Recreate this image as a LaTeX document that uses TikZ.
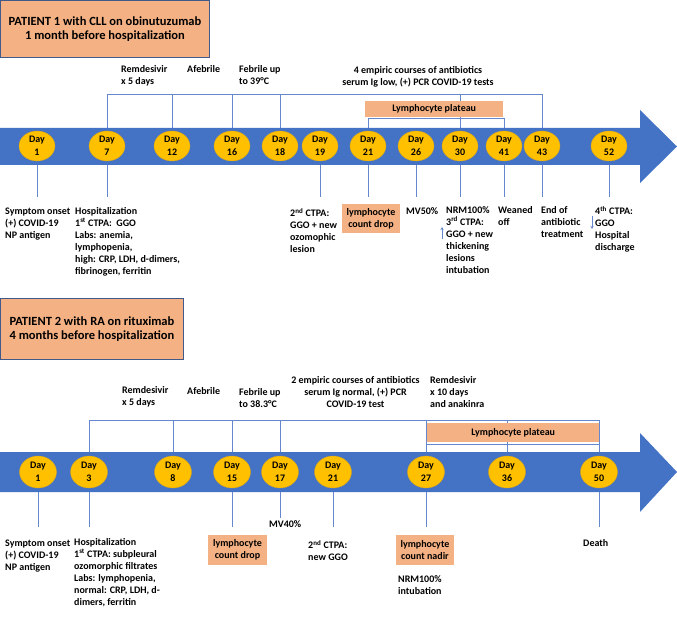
\documentclass[tikz,border=0pt]{standalone}
\usepackage{fontspec}
\setmainfont{Carlito}
\usetikzlibrary{shapes.geometric,arrows.meta}
\definecolor{bandblue}{RGB}{68,114,196}
\definecolor{gold}{RGB}{255,192,0}
\definecolor{golddk}{RGB}{215,165,30}
\definecolor{peach}{RGB}{244,177,131}
\definecolor{lnblue}{RGB}{100,135,205}
\definecolor{darkedge}{RGB}{65,90,140}
\newcommand{\lblfont}{\fontsize{10}{12}\selectfont\bfseries}
\newcommand{\dayfont}{\fontsize{10}{12.5}\selectfont\bfseries}
\newcommand{\titlefont}{\fontsize{12.5}{14.5}\selectfont\bfseries}
\begin{document}
\begin{tikzpicture}[x=1pt,y=-1pt,
  day/.style={ellipse, fill=gold, draw=golddk, line width=0.4pt, minimum width=36pt, minimum height=30pt, inner sep=0pt, align=center, font=\dayfont},
  daytwo/.style={day, minimum width=37pt, minimum height=32pt},
  conn/.style={draw=lnblue, line width=0.7pt},
  lbl/.style={anchor=north west, align=left, inner sep=0pt, font=\lblfont},
  clbl/.style={anchor=north, align=center, inner sep=0pt, font=\lblfont},
  peachbox/.style={fill=peach, inner sep=0pt, align=center, font=\lblfont},
  titlebox/.style={fill=peach, draw=darkedge, line width=0.9pt, inner sep=0pt, align=center, font=\titlefont},
  ptr/.style={draw=lnblue, line width=0.7pt, -{Stealth[length=3pt,width=3pt]}}
]
\useasboundingbox (0,0) rectangle (677,617);
\fill[white] (0,0) rectangle (677,617);

% ================= PATIENT 1 =================
\node[titlebox, minimum width=209pt, minimum height=57pt, anchor=north west] (t1) at (0,0)
  {PATIENT 1 with CLL on obinutuzumab\\1 month before hospitalization};

\coordinate (b1top) at (0,128);
\coordinate (b1bot) at (0,165);
\coordinate (p1top) at (0,94);
\coordinate (pl1b) at (0,118);
\coordinate (b1end) at (0,197);

% day positions (for brackets, placed before band so lines sit under)
\foreach \d/\x in {1/37,7/107,12/172,16/232,18/280,19/320,21/368,26/416,30/460,41/504,43/542,52/609}
  \coordinate (c\d) at (\x,146);

% top bracket
\draw[conn] (c7 |- p1top) -- (c43 |- p1top);
\foreach \d in {7,12,16,18,30,43}
  \draw[conn] (c\d |- p1top) -- (c\d |- b1top);
\draw[conn] (c21 |- pl1b) -- (c41 |- pl1b);
\foreach \d in {21,41}
  \draw[conn] (c\d |- pl1b) -- (c\d |- b1top);
\node[peachbox, minimum width=138pt, minimum height=16pt, anchor=north west] (pl1) at (365,101) {Lymphocyte plateau};

% band
\fill[bandblue] (0,128) -- (640,128) -- (640,110) -- (677,146.5) -- (640,183) -- (640,165) -- (0,165) -- cycle;

\foreach \d in {1,7,12,16,18,19,21,26,30,41,43,52}
  \node[day] (a\d) at (c\d) {Day\\\d};

% lines below
\foreach \d in {1,7,19,21,26,30,41,43,52}
  \draw[conn] (a\d |- b1bot) -- (a\d |- b1end);

% labels above
\node[lbl] (rem1) at (121,65) {Remdesivir\\x 5 days};
\node[lbl] (afeb1) at (187,65) {Afebrile};
\node[lbl] (feb1) at (239,65) {Febrile up\\to 39°C};
\node[clbl] (emp1) at (418,66) {4 empiric courses of antibiotics\\serum Ig low, (+) PCR COVID-19 tests};

% labels below
\node[lbl] (on1) at (5,208) {Symptom onset\\(+) COVID-19\\NP antigen};
\node[lbl] (hos1) at (75,207) {Hospitalization\\1\textsuperscript{st} CTPA:~~GGO\\Labs: anemia,\\lymphopenia,\\high: CRP, LDH, d-dimers,\\fibrinogen, ferritin};
\node[lbl] (ct2a) at (290,208) {2\textsuperscript{nd} CTPA:\\GGO + new\\ozomophic\\lesion};
\node[peachbox, minimum width=58pt, minimum height=29pt] (lcd1) at (371,218.5) {lymphocyte\\count drop};
\node[lbl] (mv1) at (406,207) {MV50\%};
\node[lbl] (nrm1) at (446,206) {NRM100\%\\3\textsuperscript{rd} CTPA:\\GGO + new\\thickening\\lesions\\intubation};
\node[lbl] (wo1) at (498,206) {Weaned\\off};
\node[lbl] (end1) at (541,206) {End of\\antibiotic\\treatment};
\node[lbl] (ct4) at (595,206) {4\textsuperscript{th} CTPA:\\GGO\\Hospital\\discharge};

\coordinate (ua1) at (442,239);
\coordinate (ua2) at (442,227);
\draw[ptr] (ua1) -- (ua2);
\coordinate (da1) at (592,216);
\coordinate (da2) at (592,229);
\draw[ptr] (da1) -- (da2);

% ================= PATIENT 2 =================
\node[titlebox, minimum width=183pt, minimum height=61pt, anchor=north west] (t2) at (0,298)
  {PATIENT 2 with RA on rituximab\\4 months before hospitalization};

\coordinate (b2top) at (0,452);
\coordinate (b2bot) at (0,492);
\coordinate (p2top) at (0,420);
\coordinate (pl2b) at (0,444);
\coordinate (b2end) at (0,527);
\coordinate (b2mv) at (0,518);

\foreach \d/\x in {1/38,3/89,8/173,15/232,17/280,21/333,27/426,36/507,50/599}
  \coordinate (e\d) at (\x,472);

\draw[conn] (e3 |- p2top) -- (e50 |- p2top);
\foreach \d in {3,8,15,17,27,36,50}
  \draw[conn] (e\d |- p2top) -- (e\d |- b2top);
\draw[conn] (e27 |- pl2b) -- (e50 |- pl2b);
\node[peachbox, minimum width=172pt, minimum height=19pt, anchor=north west] (pl2) at (427,423) {Lymphocyte plateau};

\fill[bandblue] (0,452) -- (640,452) -- (640,433) -- (677,472) -- (640,512) -- (640,492) -- (0,492) -- cycle;

\foreach \d in {1,3,8,15,17,21,27,36,50}
  \node[daytwo] (f\d) at (e\d) {Day\\\d};

\foreach \d in {1,3,15,21,27,50}
  \draw[conn] (f\d |- b2bot) -- (f\d |- b2end);
\draw[conn] (f17 |- b2bot) -- (f17 |- b2mv);

% labels above
\node[lbl] (rem2) at (122,386) {Remdesivir\\x 5 days};
\node[lbl] (afeb2) at (187,387) {Afebrile};
\node[lbl] (feb2) at (239,388) {Febrile up\\to 38.3°C};
\node[clbl] (emp2) at (355.5,376) {2 empiric courses of antibiotics\\serum Ig normal, (+) PCR\\COVID-19 test};
\node[lbl] (rem3) at (430,376) {Remdesivir\\x 10 days\\and anakinra};

% labels below
\node[lbl] (on2) at (5,540) {Symptom onset\\(+) COVID-19\\NP antigen};
\node[lbl] (hos2) at (74,538) {Hospitalization\\1\textsuperscript{st} CTPA: subpleural\\ozomorphic filtrates\\Labs: lymphopenia,\\normal: CRP, LDH, d-\\dimers, ferritin};
\node[lbl] (mv2) at (269,520) {MV40\%};
\node[peachbox, minimum width=59pt, minimum height=30pt] (lcd2) at (237.5,550) {lymphocyte\\count drop};
\node[lbl] (ct2b) at (308,540) {2\textsuperscript{nd} CTPA:\\new GGO};
\node[peachbox, minimum width=58pt, minimum height=30pt] (nad2) at (425,550) {lymphocyte\\count nadir};
\node[lbl] (nrm2) at (398,575) {NRM100\%\\intubation};
\node[lbl] (death) at (583,539) {Death};
\end{tikzpicture}
\end{document}
